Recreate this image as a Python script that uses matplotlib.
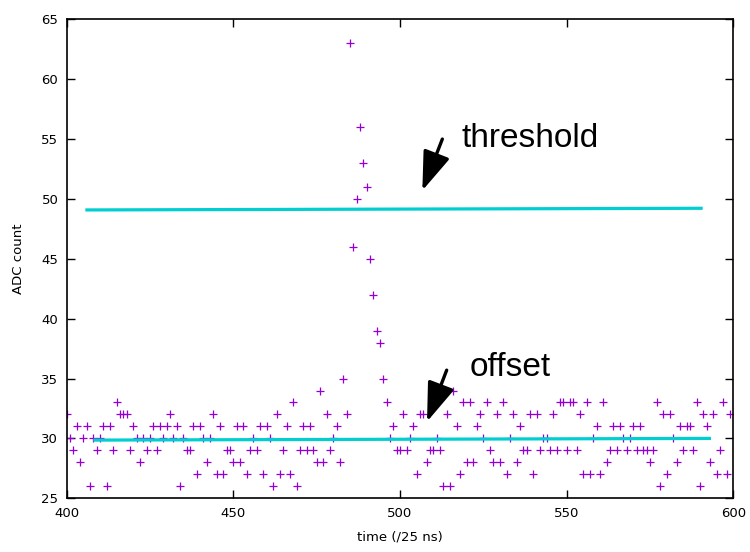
import numpy as np
import matplotlib
matplotlib.use("Agg")
import matplotlib.pyplot as plt

# ADC samples, one per time bin (units of 25 ns), starting at t = 400
t_start = 400
adc = [
    32, 30, 29, 31, 28, 30, 31, 26, 30, 29,
    30, 31, 26, 31, 29, 33, 32, 32, 32, 29,
    31, 30, 28, 30, 29, 30, 31, 29, 31, 30,
    31, 32, 30, 31, 26, 30, 29, 29, 31, 27,
    31, 30, 28, 30, 32, 27, 31, 27, 29, 29,
    28, 31, 28, 31, 27, 29, 30, 29, 31, 27,
    31, 30, 26, 32, 27, 29, 31, 27, 33, 26,
    29, 31, 29, 31, 29, 28, 34, 28, 32, 29,
    30, 31, 28, 35, 32, 63, 46, 50, 56, 53,
    51, 45, 42, 39, 38, 35, 33, 30, 31, 29,
    29, 32, 29, 30, 31, 27, 32, 32, 28, 29,
    29, 30, 29, 26, 32, 26, 34, 31, 27, 33,
    28, 33, 28, 31, 32, 30, 33, 29, 28, 32,
    28, 33, 27, 30, 32, 28, 31, 29, 29, 32,
    27, 32, 29, 30, 30, 29, 32, 29, 33, 33,
    29, 33, 33, 29, 32, 27, 33, 27, 30, 31,
    27, 33, 28, 29, 31, 29, 31, 30, 29, 30,
    31, 29, 31, 29, 29, 28, 29, 33, 26, 32,
    27, 32, 30, 28, 31, 29, 31, 31, 29, 33,
    26, 32, 31, 28, 32, 27, 29, 33, 27, 32,
]
time = np.arange(t_start, t_start + len(adc))

# threshold and offset lines (end points)
threshold_t = [405.6, 590.8]
threshold_v = [49.08, 49.22]
offset_t = [408.0, 593.3]
offset_v = [29.86, 30.0]

fig = plt.figure(figsize=(7.5, 5.52), dpi=100)
ax = fig.add_axes([0.0889, 0.0973, 0.8889, 0.8677])

ax.plot(time, adc, linestyle="none", marker="+", color="#9400d3",
        markersize=5.5, markeredgewidth=0.9)
ax.plot(threshold_t, threshold_v, color="#00ced1", linewidth=2.3, solid_capstyle="butt")
ax.plot(offset_t, offset_v, color="#00ced1", linewidth=2.3, solid_capstyle="butt")

# arrows + labels
arrow_kw = dict(arrowstyle="-|>,head_length=2.4,head_width=0.85", color="black",
                lw=2.4, shrinkA=0, shrinkB=0)
ax.annotate("", xy=(506.7, 50.7), xytext=(512.7, 55.0), arrowprops=arrow_kw)
ax.annotate("", xy=(508.1, 31.4), xytext=(514.0, 35.7), arrowprops=arrow_kw)
ax.text(518.3, 54.3, "threshold", fontsize=24, family="Liberation Sans", va="baseline")
ax.text(520.9, 35.2, "offset", fontsize=24, family="Liberation Sans", va="baseline")

ax.set_xlim(400, 600)
ax.set_ylim(25, 65)
ax.set_xticks(range(400, 601, 50))
ax.set_yticks(range(25, 66, 5))
ax.tick_params(direction="in", length=6, width=1, top=True, right=True,
               labelsize=9.5, pad=6)
for s in ax.spines.values():
    s.set_linewidth(1.2)
ax.set_xlabel("time (/25 ns)", fontsize=9.5, labelpad=8)
ax.set_ylabel("ADC count", fontsize=9.5, labelpad=12)

fig.savefig("out.png", dpi=100)
